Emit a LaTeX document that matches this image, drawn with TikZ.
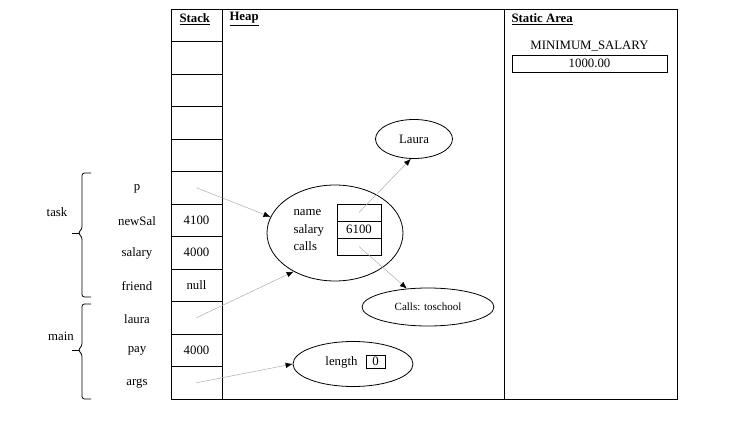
\documentclass[tikz,border=0pt]{standalone}
\usepackage{fontspec}
\setmainfont{Liberation Serif}
\usetikzlibrary{arrows.meta, shapes.geometric}

\begin{document}
\begin{tikzpicture}[x=1pt, y=-1pt, font=\fontsize{12.8}{14}\selectfont,
    cell/.style={draw, rectangle, minimum width=51pt, minimum height=32.5pt, inner sep=0pt, line width=0.8pt},
    obj/.style={draw, ellipse, inner sep=0pt, line width=0.8pt},
    field/.style={draw, rectangle, minimum width=44pt, minimum height=17pt, inner sep=0pt, line width=0.8pt},
    ref/.style={draw=gray!65, line width=0.5pt, -{Latex[black, length=7pt, width=5.5pt]}},
    framebrace/.style={line width=0.8pt, rounded corners=2.5pt},
    area/.style={anchor=west, font=\fontsize{12.8}{14}\selectfont\bfseries}]

    % Fix picture size
    \useasboundingbox (0,0) rectangle (754,422);

    % Define row layout
    \def\rowH{32.5}
    \def\stackTop{9}

    % Draw memory areas
    \draw[line width=0.8pt] (171,9) rectangle (677,399);
    \draw[line width=0.8pt] (222,9) -- (222,399);
    \draw[line width=0.8pt] (504,9) -- (504,399);
    \node[area] (hstack) at (176,19) {\underline{Stack}};
    \node[area] (hheap) at (226,19) {\underline{Heap}};
    \node[area] (hstatic) at (508,19) {\underline{Static Area}};

    % Draw stack cells
    \foreach \i/\val in {1/{},2/{},3/{},4/{},5/{},6/4100,7/4000,8/null,9/{},10/4000,11/{}}
        \node[cell] (cell\i) at (196.5,{\stackTop+\rowH*(\i+0.5)}) {\val};

    % Label stack variables
    \foreach \i/\var in {5/p,6/newSal,7/salary,8/friend,9/laura,10/pay,11/args}
        \node (var\var) at (137,{\stackTop+\rowH*(\i+0.5)+1}) {\var};

    % Draw frame braces
    \draw[framebrace] (91,173) -- (82,173) -- (82,229) -- (78,233) -- (82,237) -- (82,297) -- (91,297);
    \draw[line width=0.8pt] (79,233) -- (72,233);
    \draw[framebrace] (91,304) -- (82,304) -- (82,346) -- (78,350) -- (82,354) -- (82,399) -- (91,399);
    \draw[line width=0.8pt] (79,350) -- (72,350);
    \node (ftask) at (57,212) {task};
    \node (fmain) at (61,336) {main};

    % Draw static area
    \node (minname) at (589.5,46) {MINIMUM\_SALARY};
    \node[draw, rectangle, minimum width=155pt, minimum height=17pt, inner sep=0pt, line width=0.8pt] (minval) at (589.5,63.5) {1000.00};

    % Draw heap objects
    \node[obj, minimum width=77pt, minimum height=39pt] (laura) at (414,139) {Laura};
    \node[obj, minimum width=136pt, minimum height=96pt] (person) at (335,233) {};
    \node[obj, minimum width=132pt, minimum height=38pt, font=\fontsize{11}{13}\selectfont] (calls) at (428,307) {Calls: toschool};
    \node[obj, minimum width=120pt, minimum height=45pt] (length) at (353,364) {};

    % Fields of the person object
    \node[anchor=west] (lname) at (290,213) {name};
    \node[anchor=west] (lsalary) at (290,230) {salary};
    \node[anchor=west] (lcalls) at (290,246) {calls};
    \node[field] (fname) at (359,212.5) {};
    \node[field] (fsalary) at (359,229.5) {6100};
    \node[field] (fcalls) at (359,246.5) {};

    % Field of the array object
    \node[anchor=east] (llength) at (361,362) {length};
    \node[draw, rectangle, minimum width=19pt, minimum height=13pt, inner sep=0pt, line width=0.8pt] (flength) at (375.5,361.5) {0};

    % Draw references
    \draw[ref] (cell5.center) -- (person.166);
    \draw[ref] (cell9.center) -- (person.223);
    \draw[ref] (cell11.center) -- (length.west);
    \draw[ref] (fname.center) -- (laura.261);
    \draw[ref] (fcalls.center) -- (calls.139);

\end{tikzpicture}
\end{document}
